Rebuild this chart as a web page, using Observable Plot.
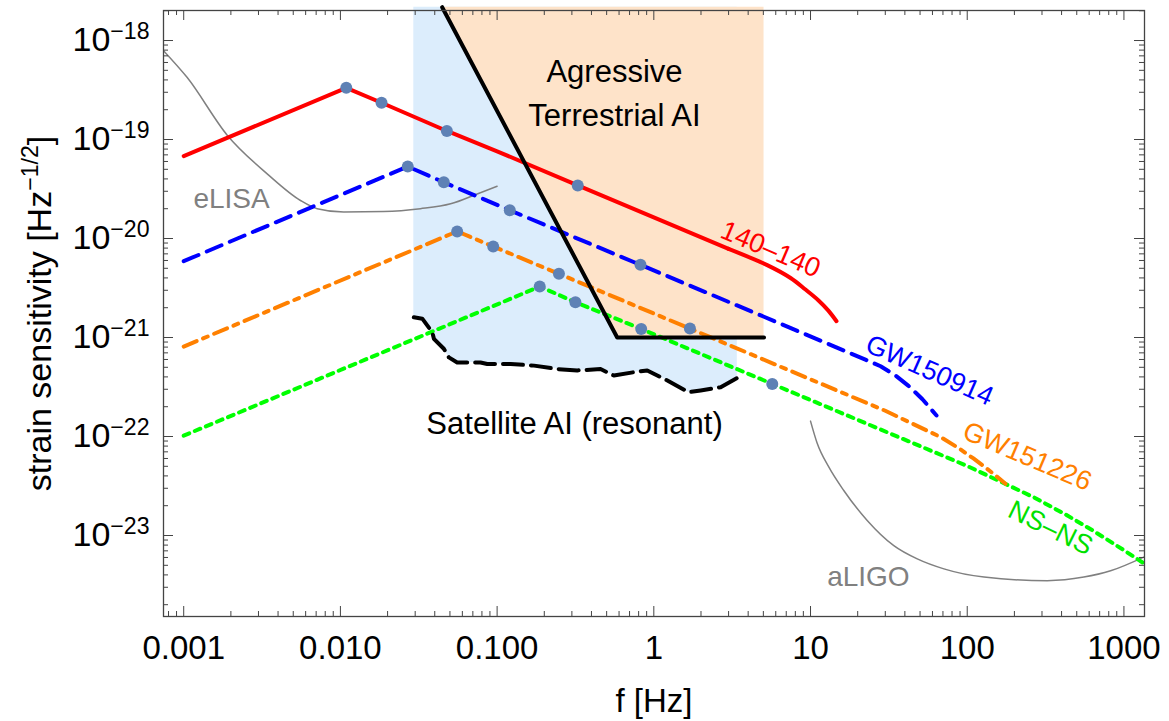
<!DOCTYPE html>
<html><head><meta charset="utf-8">
<script src="https://cdn.jsdelivr.net/npm/d3@7"></script>
<script src="https://cdn.jsdelivr.net/npm/@observablehq/plot@0.6"></script>
<style>html,body{margin:0;padding:0;background:#fff;}</style>
</head><body><div id="chart"></div>
<script>
// ---------- data (frequency in Hz, strain in Hz^-1/2) ----------
const xTicks = [0.001, 0.01, 0.1, 1, 10, 100, 1000];
const xTickLabels = ["0.001", "0.010", "0.100", "1", "10", "100", "1000"];
const yTicks = [1e-18, 1e-19, 1e-20, 1e-21, 1e-22, 1e-23];
const yTickLabels = ["10^−18", "10^−19", "10^−20", "10^−21", "10^−22", "10^−23"];

// red (140–140): straight inspiral part, then the curved high-frequency tail
const redF = [0.001, 0.0109, 0.0183, 0.0478, 0.1, 0.327, 3.0];
const redH = [6.8e-20, 3.33e-19, 2.35e-19, 1.22e-19, 7.6e-20, 3.44e-20, 7.85e-21];
const redTailF = [3.0, 5.29, 7.46, 9.29, 11.25, 13.0, 14.65];
const redTailH = [7.85e-21, 5.38e-21, 3.99e-21, 3.05e-21, 2.37e-21, 1.87e-21, 1.46e-21];
const blueF = [0.001, 0.0269, 0.0457, 0.1205, 0.822, 5, 22.4, 28, 34.9, 42.2, 51.8, 63.7];
const blueH = [5.9e-21, 5.33e-20, 3.7e-20, 1.93e-20, 5.42e-21, 1.63e-21, 5.98e-22, 5.12e-22, 4.13e-22, 3.25e-22, 2.38e-22, 1.63e-22];
const orangeF = [0.001, 0.0556, 0.0944, 0.248, 1.70, 30, 67.6, 88, 109.6, 130.8, 151.6, 175.4];
const orangeH = [8.1e-22, 1.18e-20, 8.3e-21, 4.4e-21, 1.23e-21, 1.82e-22, 9.87e-23, 7.64e-23, 6.0e-23, 4.86e-23, 4.04e-23, 3.33e-23];
const greenF = [0.001, 0.187, 0.316, 0.831, 5.70, 100, 265, 430, 635, 1000, 1353];
const greenH = [1.02e-22, 3.27e-21, 2.27e-21, 1.22e-21, 3.4e-22, 5.04e-23, 2.44e-23, 1.61e-23, 1.12e-23, 7.1e-24, 5.18e-24];

const dotF = [0.0109, 0.0183, 0.0478, 0.327, 0.0269, 0.0457, 0.1205, 0.822, 0.0556, 0.0944, 0.248, 1.70, 0.187, 0.316, 0.831, 5.70];
const dotH = [3.33e-19, 2.35e-19, 1.22e-19, 3.44e-20, 5.33e-20, 3.7e-20, 1.93e-20, 5.42e-21, 1.18e-20, 8.3e-21, 4.4e-21, 1.23e-21, 3.27e-21, 2.27e-21, 1.22e-21, 3.4e-22];

const elisaF = [0.000743, 0.00105, 0.0019, 0.00341, 0.00556, 0.00711, 0.0105, 0.0189, 0.0324, 0.0505, 0.0746, 0.1];
const elisaH = [7.9e-19, 4.25e-19, 1.1e-19, 4.5e-20, 2.42e-20, 2.0e-20, 1.85e-20, 1.87e-20, 2.0e-20, 2.24e-20, 2.82e-20, 3.37e-20];
const ligoF = [10, 11, 13.1, 16.3, 23, 34, 48, 71, 128, 324, 555, 822, 1353];
const ligoH = [1.43e-22, 8.65e-23, 4.9e-23, 2.85e-23, 1.42e-23, 7.9e-24, 5.8e-24, 4.6e-24, 3.8e-24, 3.5e-24, 3.8e-24, 4.4e-24, 6.1e-24];

const satF = [0.0294, 0.0333, 0.0386, 0.0395, 0.0457, 0.0492, 0.0556, 0.0783, 0.0865, 0.122, 0.172, 0.242, 0.325, 0.457, 0.556, 0.745, 0.908, 1.22, 1.67, 1.99, 2.67, 3.41];
const satH = [1.60e-21, 1.55e-21, 1.13e-21, 9.7e-22, 7.7e-22, 6.3e-22, 5.6e-22, 5.6e-22, 5.4e-22, 5.4e-22, 5.2e-22, 4.8e-22, 4.65e-22, 4.8e-22, 4.13e-22, 4.46e-22, 4.65e-22, 3.68e-22, 2.8e-22, 2.92e-22, 3.15e-22, 3.9e-22];
const terrF = [0.0446, 0.584, 5.05];
const terrH = [2.17e-18, 1e-21, 1e-21];
const regionTop = 2.17e-18;

const curveLabelText = ["140–140", "GW150914", "GW151226", "NS–NS"];
const curveLabelF = [5.56, 57.5, 241.5, 340];
const curveLabelH = [7.75e-21, 4.64e-22, 6.28e-23, 1.19e-23];
const curveLabelAngle = [23, 24, 23, 26];
const curveLabelColor = ["#ff0000", "#0000ff", "#ff8000", "#00e000"];

const annText = ["Agressive", "Terrestrial AI", "Satellite AI (resonant)"];
const annF = [0.561, 0.561, 0.312];
const annH = [4.77e-19, 1.74e-19, 1.34e-22];

const detText = ["eLISA", "aLIGO"];
const detF = [0.00202, 23.4];
const detH = [2.52e-20, 3.85e-24];

// ---------- helpers ----------
const zip = (F, H) => F.map((f, i) => ({f, h: H[i]}));
const xDomain = [0.000743, 1353];
const yDomain = [1.52e-24, 2.01e-18];
const W = 1169, H = 721, mL = 163, mR = 25, mT = 10, mB = 105;
const plotW = W - mL - mR, plotH = H - mT - mB;
const xMinor = [], yMinor = [];
for (let e = -4; e <= 3; e++) for (let k = 2; k <= 9; k++) { const v = k * 10 ** e; if (v > xDomain[0] && v < xDomain[1]) xMinor.push(v); }
for (let e = -25; e <= -18; e++) for (let k = 2; k <= 9; k++) { const v = k * 10 ** e; if (v > yDomain[0] && v < yDomain[1]) yMinor.push(v); }
const xLab = new Map(xTicks.map((d, i) => [d, xTickLabels[i]]));
const yLab = new Map(yTicks.map((d, i) => [d, yTickLabels[i]]));
const frameColor = "#444";
const font = "Liberation Sans, Arial, Helvetica, sans-serif";
const LW = 4;

const marks = [
  Plot.areaY(zip(satF, satH), {x: "f", y1: "h", y2: () => regionTop, fill: "#dcedfc"}),
  Plot.areaY(zip(terrF, terrH), {x: "f", y1: "h", y2: () => regionTop, fill: "#fee3c9"}),
  Plot.line(zip(elisaF, elisaH), {x: "f", y: "h", stroke: "#808080", strokeWidth: 1.5, curve: "monotone-x", clip: true}),
  Plot.line(zip(ligoF, ligoH), {x: "f", y: "h", stroke: "#808080", strokeWidth: 1.5, curve: "monotone-x", clip: true}),
  Plot.line(zip(greenF, greenH), {x: "f", y: "h", stroke: "#00ff00", strokeWidth: LW, strokeDasharray: "6,6", clip: true}),
  Plot.line(zip(orangeF, orangeH), {x: "f", y: "h", stroke: "#ff8000", strokeWidth: LW, strokeDasharray: "14,7,5,7", clip: true}),
  Plot.line(zip(blueF, blueH), {x: "f", y: "h", stroke: "#0000ff", strokeWidth: LW, strokeDasharray: "16,9", clip: true}),
  Plot.line(zip(redF, redH), {x: "f", y: "h", stroke: "#ff0000", strokeWidth: LW, clip: true}),
  Plot.line(zip(redTailF, redTailH), {x: "f", y: "h", stroke: "#ff0000", strokeWidth: LW, curve: "catmull-rom", clip: true}),
  Plot.line(zip(satF, satH), {x: "f", y: "h", stroke: "#000", strokeWidth: LW, strokeDasharray: "20,8"}),
  Plot.line(zip(terrF, terrH), {x: "f", y: "h", stroke: "#000", strokeWidth: LW}),
  Plot.dot(zip(dotF, dotH), {x: "f", y: "h", r: 6, fill: "#5e81b5"}),
  // frame & inward ticks
  Plot.frame({stroke: frameColor, strokeWidth: 1.3}),
  Plot.ruleX(xTicks, {x: d => d, insetTop: plotH - 10, stroke: frameColor}),
  Plot.ruleX(xTicks, {x: d => d, insetBottom: plotH - 10, stroke: frameColor}),
  Plot.ruleX(xMinor, {x: d => d, insetTop: plotH - 5, stroke: frameColor}),
  Plot.ruleX(xMinor, {x: d => d, insetBottom: plotH - 5, stroke: frameColor}),
  Plot.ruleY(yTicks, {y: d => d, insetRight: plotW - 10, stroke: frameColor}),
  Plot.ruleY(yTicks, {y: d => d, insetLeft: plotW - 10, stroke: frameColor}),
  Plot.ruleY(yMinor, {y: d => d, insetRight: plotW - 5, stroke: frameColor}),
  Plot.ruleY(yMinor, {y: d => d, insetLeft: plotW - 5, stroke: frameColor}),
  Plot.axisX(xTicks, {anchor: "bottom", tickSize: 0, tickPadding: 19, fontSize: 33, tickFormat: d => xLab.get(d), label: null, fill: "#000"}),
  Plot.axisY(yTicks, {anchor: "left", tickSize: 0, tickPadding: 14, fontSize: 34, tickFormat: d => yLab.get(d), label: null, fill: "#000"}),
  Plot.text(["f [Hz]"], {text: d => d, frameAnchor: "bottom", dy: 95, fontSize: 33, lineAnchor: "bottom", fill: "#000"}),
  Plot.text(["strain sensitivity [Hz^−1/2^]"], {text: d => d, frameAnchor: "left", dx: -113, rotate: -90, fontSize: 34, lineAnchor: "bottom", textAnchor: "middle", fill: "#000"}),
  Plot.text(zip(annF, annH).map((d, i) => ({...d, t: annText[i]})), {x: "f", y: "h", text: "t", fontSize: 31, fill: "#000"}),
  Plot.text(zip(detF, detH).map((d, i) => ({...d, t: detText[i]})), {x: "f", y: "h", text: "t", fontSize: 28, fill: "#808080"})
];
curveLabelText.forEach((t, i) => {
  marks.push(Plot.text([{f: curveLabelF[i], h: curveLabelH[i], t}], {x: "f", y: "h", text: "t", rotate: curveLabelAngle[i], fontSize: 27, fill: curveLabelColor[i]}));
});

const svg = Plot.plot({
  width: W, height: H,
  marginLeft: mL, marginRight: mR, marginTop: mT, marginBottom: mB,
  x: {type: "log", domain: xDomain},
  y: {type: "log", domain: yDomain},
  style: {fontFamily: font, background: "#fff", overflow: "visible"},
  marks
});
document.getElementById("chart").appendChild(svg);

// superscripts: "base^sup^rest"
d3.select(svg).selectAll("text").each(function () {
  const s = this.textContent;
  if (!s.includes("^")) return;
  const fs = parseFloat(getComputedStyle(this).fontSize) || 34;
  const [base, sup, rest] = s.split("^");
  const sel = d3.select(this);
  sel.text(null);
  sel.append("tspan").text(base);
  sel.append("tspan").attr("dy", -0.37 * fs).attr("font-size", 0.68 * fs).text(sup);
  if (rest !== undefined) sel.append("tspan").attr("dy", 0.37 * fs).text(rest);
});
</script>
</body></html>
